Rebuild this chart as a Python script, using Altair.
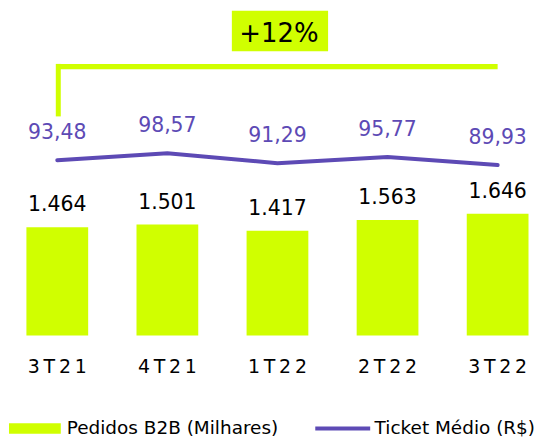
import altair as alt
import pandas as pd

categories = ["3T21", "4T21", "1T22", "2T22", "3T22"]
pedidos = [1464, 1501, 1417, 1563, 1646]
ticket = [93.48, 98.57, 91.29, 95.77, 89.93]
serie_names = ["Pedidos B2B (Milhares)", "Ticket Médio (R$)"]

LIME = "#d0ff00"
PURPLE = "#5d4ab5"
FONT = "DejaVu Sans"

df = pd.DataFrame({
    "cat": categories,
    "pedidos": pedidos,
    "ticket": ticket,
    "pedidos_label": [f"{v:,}".replace(",", ".") for v in pedidos],
    "ticket_label": [f"{v:.2f}".replace(".", ",") for v in ticket],
})

growth = round((pedidos[-1] / pedidos[0] - 1) * 100)
df_growth = pd.DataFrame({"txt": [f"+{growth}%"]})
df_span = pd.DataFrame({"cat": [categories[0], categories[-1]]})
df_first = pd.DataFrame({"cat": [categories[0]]})
df_leg = pd.DataFrame({"serie": serie_names})

xscale = alt.Scale(domain=categories, paddingInner=0.439, paddingOuter=0.1086, align=0.77)
xaxis = alt.Axis(
    title=None, labelAngle=0, ticks=False, tickSize=0, domain=False, grid=False,
    labelFont=FONT, labelFontSize=19, labelColor="#000000",
    labelPadding=36.7, labelBaseline="alphabetic", labelOverlap=False,
    labelExpr="join(split(datum.label, ''), '\u2009')",
)
X = alt.X("cat:N", sort=categories, scale=xscale, axis=xaxis)

bar_y = alt.Y("pedidos:Q", scale=alt.Scale(domain=[0, 4417]), axis=None)
line_y = alt.Y("ticket:Q", scale=alt.Scale(domain=[-36.2, 205.4]), axis=None)

base = alt.Chart(df)

bars = base.mark_bar(color=LIME).encode(x=X, y=bar_y)
bar_text = base.mark_text(
    baseline="alphabetic", dy=-16, fontSize=20.5, font=FONT, color="#000000"
).encode(x=X, y=bar_y, text="pedidos_label:N")

line = base.mark_line(color=PURPLE, strokeWidth=4, strokeCap="round").encode(x=X, y=line_y)
line_text = base.mark_text(
    baseline="alphabetic", dy=-21, fontSize=20.5, font=FONT, color=PURPLE
).encode(x=X, y=line_y, text="ticket_label:N")

bracket_h = alt.Chart(df_span).mark_line(color=LIME, strokeWidth=5.3, strokeCap="butt").encode(
    x=X, y=alt.value(58)
)
bracket_v = alt.Chart(df_first).mark_rule(color=LIME, strokeWidth=5, xOffset=1).encode(
    x=X, y=alt.value(55.3), y2=alt.value(108)
)
box = alt.Chart(df_growth).mark_rect(color=LIME).encode(
    x=alt.value(224.7), x2=alt.value(321.3), y=alt.value(2), y2=alt.value(42.7)
)
box_text = alt.Chart(df_growth).mark_text(
    fontSize=26, font=FONT, color="#000000", baseline="alphabetic", align="center"
).encode(x=alt.value(272), y=alt.value(33.7), text="txt:N")

leg = alt.Legend(
    title=None, orient="none", legendX=1, legendY=395, direction="horizontal",
    labelFont=FONT, labelFontSize=18.5, labelColor="#000000", labelLimit=0,
    symbolSize=2704, symbolOpacity=1, symbolStrokeWidth=0,
    labelOffset=6, columnPadding=36, padding=0,
)
legend_layer = alt.Chart(df_leg).mark_point(filled=True, opacity=0).encode(
    color=alt.Color("serie:N", scale=alt.Scale(domain=serie_names, range=[LIME, PURPLE]), legend=leg),
    shape=alt.Shape("serie:N", scale=alt.Scale(
        domain=serie_names,
        range=["M-1,-0.204H1V0.204H-1Z", "M-1.06,-0.077H1.06V0.077H-1.06Z"],
    ), legend=leg),
)

chart = alt.layer(
    bars, bar_text, line, line_text, bracket_h, bracket_v, box, box_text, legend_layer
).resolve_scale(y="independent").properties(
    width=528, height=328, background="white",
    padding={"left": 0, "right": 0, "top": 0, "bottom": 0},
).configure_view(strokeWidth=0, stroke=None)

chart.save("out.html", embed_options={"renderer": "svg", "actions": False})
